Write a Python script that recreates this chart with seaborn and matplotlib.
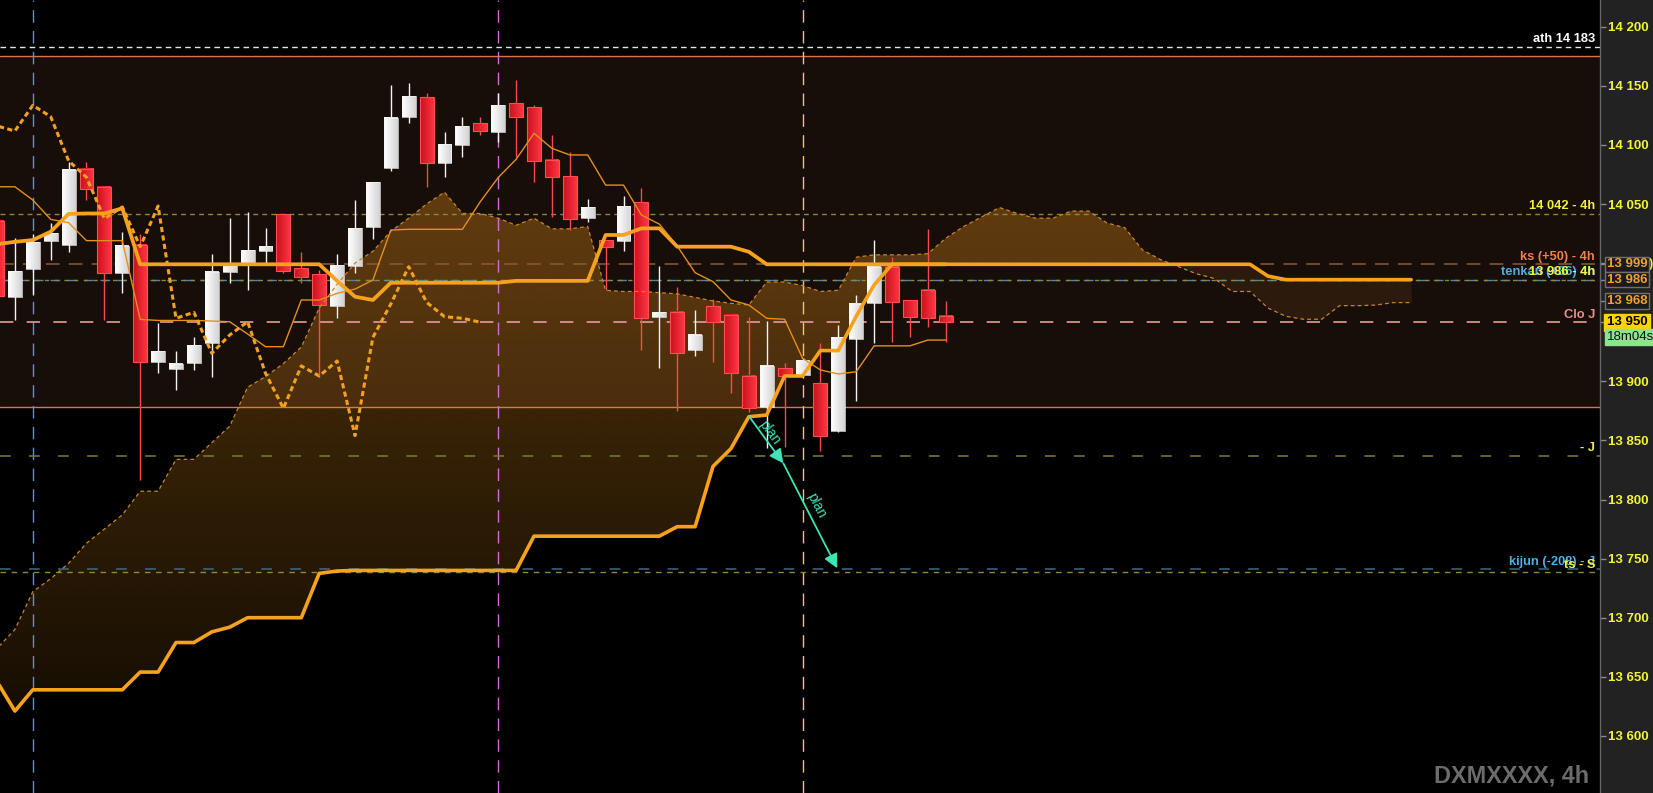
import numpy as np
import matplotlib
matplotlib.use("Agg")
import matplotlib.pyplot as plt
import seaborn as sns
from matplotlib.path import Path
from matplotlib.patches import PathPatch
from matplotlib.ticker import FixedLocator
import matplotlib.transforms as mtransforms
from matplotlib.colors import to_rgb

# ---------------- data (4h candles, index = bar number) ----------------
opens = [14035.6, 13971.6, 13994.8, 14019.0, 14015.3, 14079.4, 14064.6, 13991.4, 14015.0, 13916.6,
         13910.0, 13915.7, 13932.0, 13992.7, 14000.3, 14010.5, 14041.3, 13995.6, 13990.5, 13964.0,
         13997.8, 14030.8, 14080.2, 14123.4, 14140.3, 14085.0, 14100.2, 14118.3, 14111.2, 14135.2,
         14131.8, 14087.0, 14073.4, 14038.4, 14019.5, 14019.0, 14051.4, 13954.7, 13958.4, 13926.5,
         13963.7, 13956.0, 13904.4, 13878.0, 13911.0, 13905.3, 13898.3, 13858.2, 13935.5, 13966.0,
         13997.0, 13968.8, 13977.2, 13955.2]
highs = [14040.0, 14021.0, 14025.0, 14034.0, 14085.8, 14085.3, 14064.6, 14026.0, 14025.0, 13949.6,
         13925.6, 13937.7, 14007.7, 14037.9, 14043.5, 14030.0, 14041.3, 14009.0, 13994.0, 14007.7,
         14053.4, 14068.4, 14150.7, 14152.0, 14144.0, 14110.7, 14123.4, 14123.4, 14144.2, 14155.0,
         14133.8, 14108.4, 14094.2, 14054.2, 14019.5, 14056.8, 14063.3, 13997.5, 13980.0, 13960.3,
         13970.0, 13956.0, 13954.7, 13951.3, 13915.2, 13920.0, 13932.7, 13947.6, 13973.0, 14019.5,
         14005.4, 13968.8, 14028.6, 13968.0]
lows = [13960.0, 13952.0, 13973.0, 14002.6, 14009.6, 14053.4, 13951.9, 13974.5, 13816.5, 13906.8,
        13893.0, 13909.6, 13904.0, 13983.0, 13977.0, 14000.0, 13991.4, 13983.4, 13904.0, 13953.3,
        13991.4, 14020.0, 14078.0, 14118.8, 14064.6, 14073.0, 14089.5, 14108.4, 14102.7, 14090.0,
        14068.9, 14039.3, 14028.0, 14035.0, 13977.0, 14010.5, 13926.5, 13911.0, 13875.0, 13921.4,
        13916.6, 13890.4, 13874.0, 13843.3, 13844.7, 13903.0, 13841.3, 13856.9, 13883.6, 13932.7,
        13933.5, 13937.2, 13945.7, 13933.5]
closes = [13972.0, 13993.0, 14017.6, 14025.7, 14078.8, 14062.4, 13991.4, 14014.5, 13916.0, 13925.6,
          13914.4, 13930.7, 13992.5, 13997.8, 14011.0, 14014.5, 13993.6, 13988.0, 13964.5, 13998.4,
          14029.4, 14068.4, 14122.8, 14141.0, 14085.0, 14100.8, 14116.0, 14111.8, 14133.5, 14123.9,
          14086.6, 14072.6, 14037.6, 14047.5, 14013.9, 14048.3, 13953.3, 13958.4, 13923.7, 13939.2,
          13950.4, 13906.8, 13877.2, 13913.0, 13904.5, 13917.2, 13854.0, 13937.2, 13965.4, 13997.0,
          13966.8, 13954.7, 13953.3, 13950.0]

tenkan = [14064.6, 14064.6, 14053.4, 14037.0, 14034.2, 14019.0, 14019.0, 14019.0, 13952.4, 13951.5,
          13951.5, 13951.5, 13951.0, 13950.4, 13940.0, 13929.3, 13929.3, 13968.8, 13968.8, 13974.4,
          13978.0, 13985.7, 14028.0, 14028.6, 14028.6, 14028.6, 14028.6, 14052.0, 14072.4, 14087.8,
          14109.8, 14097.1, 14091.5, 14091.5, 14066.0, 14066.0, 14040.7, 14033.0, 14014.5, 13991.9,
          13984.3, 13968.8, 13964.6, 13953.3, 13952.5, 13919.5, 13909.6, 13906.2, 13908.1, 13930.0,
          13930.0, 13930.0, 13934.9, 13934.9]
kijun = [14016.0, 14018.0, 14019.5, 14026.6, 14041.6, 14042.0, 14042.0, 14046.4, 13999.0, 13999.0,
         13999.0, 13999.0, 13999.0, 13999.0, 13999.0, 13999.0, 13999.0, 13999.0, 13999.0, 13985.0,
         13971.6, 13968.8, 13983.4, 13983.4, 13983.4, 13983.4, 13983.4, 13983.4, 13983.4, 13985.0,
         13985.0, 13985.0, 13985.0, 13985.0, 14023.8, 14023.8, 14029.4, 14029.4, 14013.9, 14013.9,
         14013.9, 14013.9, 14009.6, 13999.0, 13999.0, 13999.0, 13999.0, 13999.0, 13999.0, 13999.0,
         13999.0, 13999.0, 13999.0, 13999.0]
ssa = [13674, 13690, 13722, 13733, 13746, 13763, 13775, 13787, 13807, 13807,
       13834, 13834, 13848, 13862, 13895, 13904, 13915, 13929, 13962, 13982,
       14000, 14010, 14027, 14038, 14050, 14060, 14042, 14042, 14038, 14032,
       14038, 14029, 14029, 14031, 13977, 13976, 13976, 13975, 13974, 13971,
       13968, 13966, 13964.6, 13984, 13984, 13981, 13976, 13977, 14005, 14007,
       14007, 14007, 14008, 14021, 14031, 14039, 14047, 14042, 14038, 14038,
       14044, 14044, 14034, 14030, 14011, 14003, 13997, 13991, 13987, 13976,
       13976, 13962, 13955, 13952.5, 13952.5, 13964, 13964, 13964.5, 13966.6, 13966.6]
ssb = [13646, 13621, 13639, 13639, 13639, 13639, 13639, 13639, 13654, 13654,
       13679, 13679, 13688, 13692, 13700, 13700, 13700, 13700, 13737.5, 13739.5,
       13740, 13740, 13740, 13740, 13740, 13740, 13740, 13740, 13740, 13740,
       13769, 13769, 13769, 13769, 13769, 13769, 13769, 13769, 13777, 13777,
       13828, 13843, 13870, 13871.5, 13904.5, 13904.5, 13926, 13926, 13955, 13981.5,
       13999, 13999, 13999, 13999, 13999, 13999, 13999, 13999, 13999, 13999,
       13999, 13999, 13999, 13999, 13999, 13999, 13999, 13999, 13999, 13999,
       13999, 13989, 13986, 13986, 13986, 13986, 13986, 13986, 13986, 13986]
chikou_shift = 26

band_levels = [13878.6, 14175.0]
level_values = [14183, 14041.5, 13999, 13986, 13950, 13837, 13741, 13738.5]
level_labels = ['ath 14 183', '14 042 - 4h', 'ks (+50) - 4h', 'tenkan (+36) 4h',
                'Clo J', '- J', 'kijun (-208) - J', 'ts - S']
overlay_label = '13 986 - 4h'
vline_bars = [2, 28, 45]
plan_x = [42.03, 43.93, 46.94]
plan_y = [13870.0, 13830.6, 13741.8]
tag_values = [13999, 13986, 13968, 13950]
timer_text = '18m04s'
yticks = list(range(13600, 14201, 50))
watermark = 'DXMXXXX, 4h'

# ---------------- style ----------------
sns.set_theme(style="dark")
plt.rcParams['font.family'] = ['Liberation Sans', 'DejaVu Sans']

W, H = 1653, 793
fig = plt.figure(figsize=(W / 100, H / 100), dpi=100)
fig.patch.set_facecolor('#222222')
ax = fig.add_axes([0, 0, 1600 / W, 1])
ax.set_facecolor('black')
ax.grid(False)

XMIN, XMAX = 0.168, 89.55
YMIN, YMAX = 13551.7, 14222.6

# brown band between the two reference levels
ax.axhspan(band_levels[0], band_levels[1], color='#170d09', lw=0, zorder=0.2)
for v in band_levels:
    ax.axhline(v, color='#e0724a', lw=1.0, zorder=0.3)

# ---------------- cloud ----------------
xc = np.arange(len(ssa))
ssa_a = np.array(ssa, float)
ssb_a = np.array(ssb, float)
bull = ax.fill_between(xc, ssa_a, ssb_a, where=ssa_a >= ssb_a, interpolate=True,
                       facecolor='none', edgecolor='none', lw=0)
cpath = Path.make_compound_path(*bull.get_paths())
clip = PathPatch(cpath, transform=ax.transData, facecolor='none', edgecolor='none')
ax.add_patch(clip)
ny = 400
yy = np.linspace(YMIN, YMAX, ny)
alpha = np.interp(yy, [13620, 14060], [0.10, 0.37])
img = np.zeros((ny, 2, 4))
img[..., 0] = 225 / 255
img[..., 1] = 140 / 255
img[..., 2] = 25 / 255
img[..., 3] = alpha[:, None]
im = ax.imshow(img, extent=[XMIN, XMAX, YMIN, YMAX], origin='lower', aspect='auto',
               interpolation='bilinear', zorder=1)
im.set_clip_path(clip)
ax.fill_between(xc, ssa_a, ssb_a, where=ssa_a < ssb_a, interpolate=True,
                color=(140 / 255, 90 / 255, 30 / 255), alpha=0.18, lw=0, zorder=1)

# ---------------- vertical & horizontal reference lines ----------------
for xv, col in zip(vline_bars, ['#6a88e0', '#d86ad8', '#f0c37a']):
    ax.axvline(xv, color=col, lw=1.0, linestyle=(0, (9, 6)), zorder=1.5)

hl_styles = [('#e6e6e6', (0, (4, 3)), 1.0), ('#8a8a3a', (0, (3.5, 3)), 1.0),
             ('#8c5a3c', (0, (9, 6)), 1.1), ('#4d86a8', (0, (7, 5)), 1.0),
             ('#e79a9a', (0, (8, 8)), 1.2), ('#7c7c34', (0, (7, 12)), 1.1),
             ('#3c6a8c', (0, (7, 12)), 1.1), ('#8a8a3a', (0, (4, 4)), 1.0)]
for v, (col, ls, lw) in zip(level_values, hl_styles):
    ax.axhline(v, color=col, lw=lw, linestyle=ls, zorder=1.6)
ax.axhline(level_values[3], color='#8a8a3a', lw=1.0, linestyle=(3, (3, 4)), zorder=1.6)

# ---------------- candles ----------------
x = np.arange(len(opens))
o = np.array(opens); c = np.array(closes); h = np.array(highs); l = np.array(lows)
up = c >= o
body_lo = np.minimum(o, c)
body_h = np.maximum(np.abs(c - o), 0.8)
wick_cols = np.where(up, '#f4f4f4', '#ff4848')
ax.vlines(x, l, h, colors=wick_cols, lw=1.0, zorder=2.5)
BW = 0.78


def grad(c_left, c_right, n=24):
    a = np.array(to_rgb(c_left)); b = np.array(to_rgb(c_right))
    t = np.linspace(0, 1, n)[None, :, None]
    return a[None, None, :] * (1 - t) + b[None, None, :] * t


g_up = grad('#ffffff', '#d4d4d4')
g_dn = grad('#c8121f', '#ff3442')
for xi, lo_, hh, is_up in zip(x, body_lo, body_h, up):
    ax.imshow(g_up if is_up else g_dn, extent=[xi - BW / 2, xi + BW / 2, lo_, lo_ + hh],
              origin='lower', aspect='auto', interpolation='bilinear', zorder=3)
ax.bar(x[up], body_h[up], bottom=body_lo[up], width=BW, facecolor='none',
       edgecolor='#f4f4f4', lw=0.5, zorder=3.1)
ax.bar(x[~up], body_h[~up], bottom=body_lo[~up], width=BW, facecolor='none',
       edgecolor='#ff5050', lw=0.8, zorder=3.1)

# ---------------- ichimoku lines (seaborn) ----------------
sns.lineplot(x=xc, y=ssa_a, ax=ax, color='#c8842c', lw=0.9, linestyle=(0, (3, 2.5)),
             errorbar=None, zorder=4)
sns.lineplot(x=xc, y=ssb_a, ax=ax, color='#f7a21c', lw=2.6, errorbar=None, zorder=4.2)
sns.lineplot(x=x, y=np.array(kijun), ax=ax, color='#f7a21c', lw=2.7, errorbar=None, zorder=4.3)
sns.lineplot(x=x, y=np.array(tenkan), ax=ax, color='#e3901c', lw=1.0, errorbar=None, zorder=4.1)
chik_y = c[chikou_shift:]
chik_x = x[chikou_shift:] - chikou_shift
sns.lineplot(x=chik_x, y=chik_y, ax=ax, color='#f2a020', lw=2.2, linestyle=(0, (1.7, 1.1)),
             errorbar=None, zorder=4.4)

# ---------------- plan arrows ----------------
pc = '#3fe3b6'
for k in range(len(plan_x) - 1):
    ax.annotate('', xy=(plan_x[k + 1], plan_y[k + 1]), xytext=(plan_x[k], plan_y[k]),
                arrowprops=dict(arrowstyle='-|>,head_length=0.6,head_width=0.3', color=pc,
                                lw=1.3, mutation_scale=14, shrinkA=0, shrinkB=0), zorder=6)
ax.text(43.15, 13857, 'plan', color=pc, fontsize=10, rotation=-54, rotation_mode='anchor',
        ha='center', va='center', zorder=6)
ax.text(45.75, 13795, 'plan', color=pc, fontsize=10, rotation=-63, rotation_mode='anchor',
        ha='center', va='center', zorder=6)

# ---------------- level labels ----------------
blend = mtransforms.blended_transform_factory(ax.transAxes, ax.transData)
lab_cols = ['#ffffff', '#f2f23c', '#ef7f4e', '#4cb0e8', '#e69090', '#f2f23c', '#4cb0e8', '#f2f23c']
for v, txt, col in zip(level_values, level_labels, lab_cols):
    ax.annotate(txt, xy=(1595 / 1600, v), xycoords=blend, xytext=(0, 1.2),
                textcoords='offset points', ha='right', va='bottom', color=col,
                fontsize=9.3, fontweight='bold', zorder=7)
ax.annotate(overlay_label, xy=(1595 / 1600, level_values[3]), xycoords=blend, xytext=(0, 1.2),
            textcoords='offset points', ha='right', va='bottom', color='#f2f23c',
            fontsize=9.3, fontweight='bold', zorder=7.5)

# ---------------- axes ----------------
ax.set_xlim(XMIN, XMAX)
ax.set_ylim(YMIN, YMAX)
ax.set_xticks([])
ax.set_xlabel('')
ax.set_ylabel('')
ax.yaxis.tick_right()
ylabels = [f"{v:,}".replace(',', ' ') for v in yticks]
ax.set_yticks(yticks, labels=ylabels, fontsize=9.5, fontweight='bold', color='#f2f23c')
ax.yaxis.set_minor_locator(FixedLocator(tag_values))
ax.tick_params(axis='y', which='both', direction='out', length=4, width=1, color='#8a8a8a',
               pad=1.5, right=True, left=False, labelright=True, labelleft=False)
for s in ['left', 'top', 'bottom']:
    ax.spines[s].set_visible(False)
ax.spines['right'].set_color('#666666')
ax.spines['right'].set_linewidth(1.0)

# price tags on the axis
tag_x = 1606.5 / 1600
tag_styles = [('#f0a030', '#1b1b1b', '#707070', 0.12), ('#f0a030', '#1b1b1b', '#707070', 0.12),
              ('#f0a030', '#1b1b1b', '#707070', 0.12), ('#000000', '#ffd400', '#ffd400', 0.18)]
for v, (tc, fc, ec, pad) in zip(tag_values, tag_styles):
    ax.text(tag_x, v, f"{v:,}".replace(',', ' '), transform=blend, ha='left', va='center',
            color=tc, fontsize=9.5, fontweight='bold', clip_on=False, zorder=8,
            bbox=dict(boxstyle=f'square,pad={pad}', fc=fc, ec=ec, lw=1))
ax.text(1648 / 1600, tag_values[0], ')', transform=blend, ha='left', va='center',
        color='#f2f23c', fontsize=9.3, fontweight='bold', clip_on=False, zorder=7)
ax.text(tag_x, 13937.5, timer_text, transform=blend, ha='left', va='center', color='#101010',
        fontsize=9.5, clip_on=False, zorder=8,
        bbox=dict(boxstyle='square,pad=0.12', fc='#8ee48e', ec='#8ee48e', lw=1))

legend = ax.get_legend()
if legend is not None:
    legend.remove()

fig.text(1589 / W, 10.5 / H, watermark, ha='right', va='baseline', color='#6c6c6c',
         fontsize=16.8, fontweight='bold')

fig.savefig('out.png', dpi=100, facecolor=fig.get_facecolor())
